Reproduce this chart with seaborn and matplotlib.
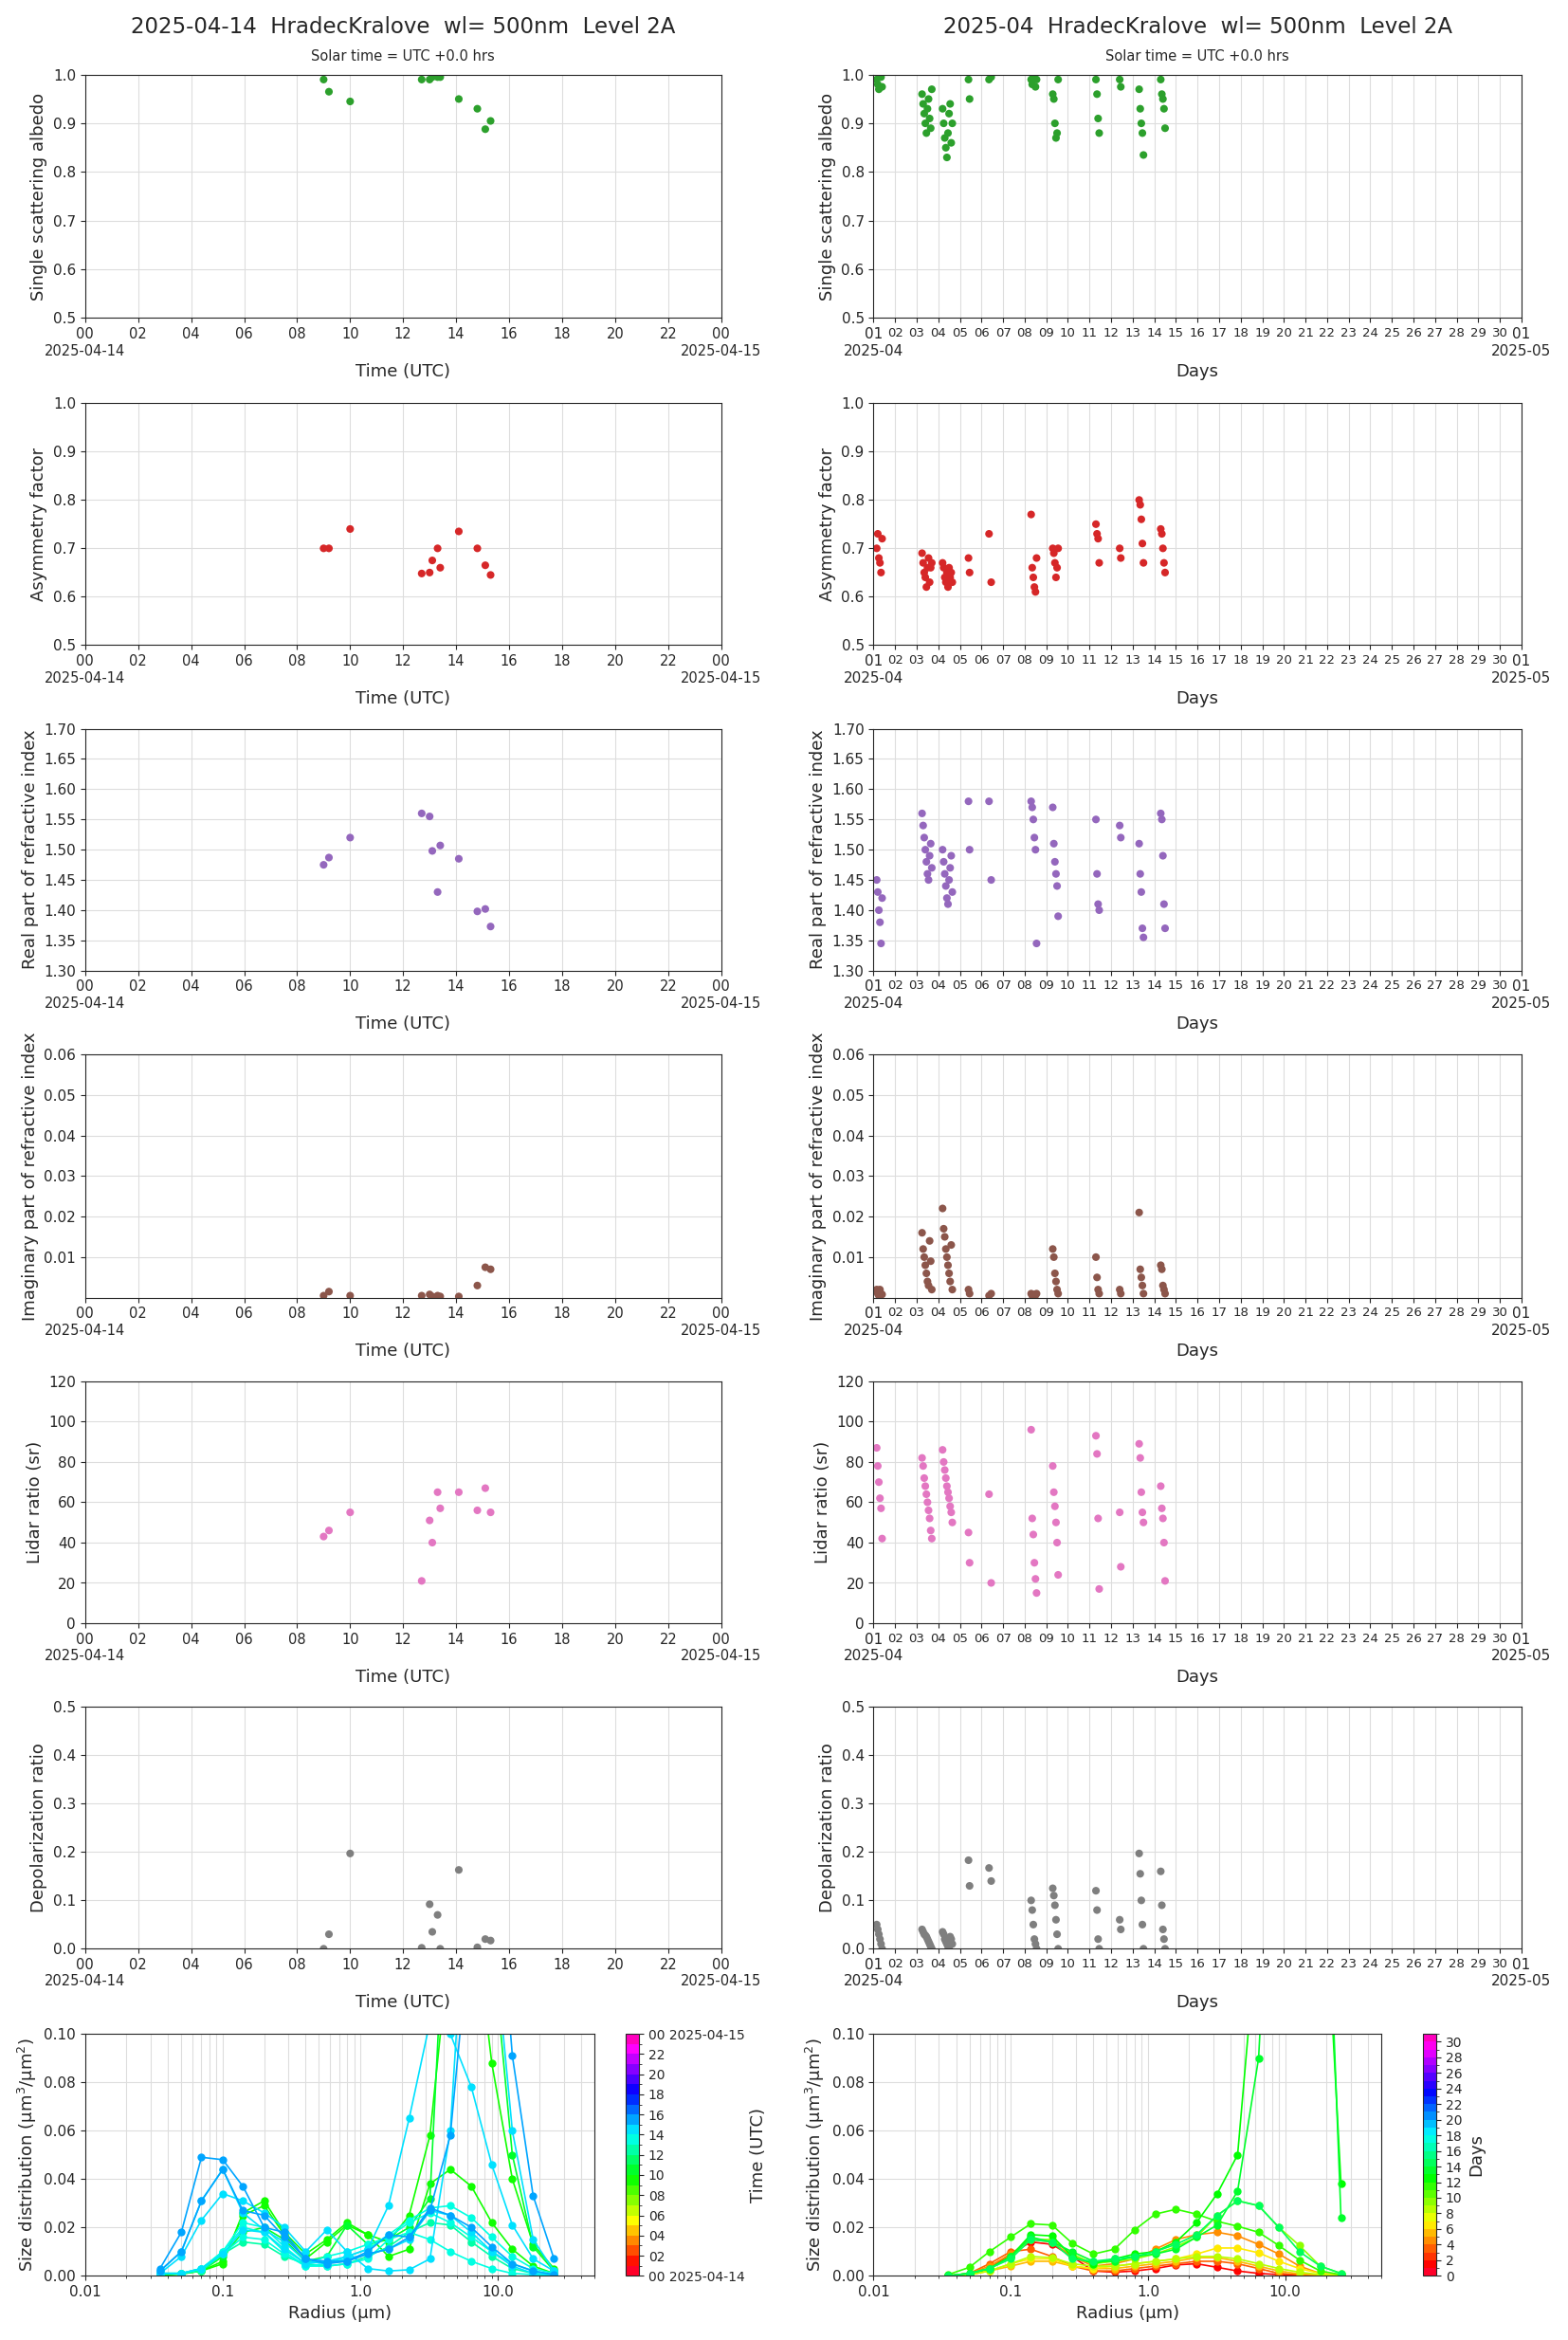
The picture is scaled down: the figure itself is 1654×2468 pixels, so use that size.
import numpy as np
import pandas as pd
import matplotlib
matplotlib.use("Agg")
import matplotlib.pyplot as plt
import matplotlib.colors as mcolors
import matplotlib.cm as cm
import seaborn as sns

sns.set_style("ticks")
plt.rcParams["font.family"] = "DejaVu Sans"

# ---------------- data: daily (hours UTC) ----------------
day_hours = [9.0, 9.2, 10.0, 12.7, 13.0, 13.1, 13.3, 13.4, 14.1, 14.8, 15.1, 15.3]
day_ssa = [0.99, 0.965, 0.945, 0.99, 0.99, 0.995, 0.995, 0.995, 0.95, 0.93, 0.888, 0.905]
day_asym = [0.70, 0.70, 0.74, 0.648, 0.65, 0.675, 0.70, 0.66, 0.735, 0.70, 0.665, 0.645]
day_real = [1.475, 1.487, 1.52, 1.56, 1.555, 1.498, 1.43, 1.507, 1.485, 1.398, 1.402, 1.373]
day_imag = [0.0005, 0.0015, 0.0005, 0.0005, 0.0008, 0.0003, 0.0005, 0.0003, 0.0003, 0.003, 0.0075, 0.007]
day_lidar = [43, 46, 55, 21, 51, 40, 65, 57, 65, 56, 67, 55]
day_depol = [0.0, 0.03, 0.197, 0.002, 0.092, 0.035, 0.07, 0.0, 0.163, 0.003, 0.02, 0.017]

# ---------------- data: monthly (day of month) ----------------
mon_days = [1.15, 1.2, 1.25, 1.3, 1.35, 1.4,
            3.25, 3.3, 3.35, 3.4, 3.45, 3.5, 3.55, 3.6, 3.65, 3.7,
            4.2, 4.25, 4.3, 4.35, 4.4, 4.45, 4.5, 4.55, 4.6, 4.65,
            5.4, 5.45, 6.35, 6.45,
            8.3, 8.35, 8.4, 8.45, 8.5, 8.55,
            9.3, 9.35, 9.4, 9.45, 9.5, 9.55,
            11.3, 11.35, 11.4, 11.45, 12.4, 12.45,
            13.3, 13.35, 13.4, 13.45, 13.5,
            14.3, 14.35, 14.4, 14.45, 14.5]
mon_ssa = [0.99, 0.98, 0.97, 1.0, 0.995, 0.975,
           0.96, 0.94, 0.92, 0.90, 0.88, 0.93, 0.95, 0.91, 0.89, 0.97,
           0.93, 0.90, 0.87, 0.85, 0.83, 0.88, 0.92, 0.94, 0.86, 0.90,
           0.99, 0.95, 0.99, 0.995,
           0.99, 0.98, 0.995, 1.0, 0.975, 0.99,
           0.96, 0.95, 0.90, 0.87, 0.88, 0.99,
           0.99, 0.96, 0.91, 0.88, 0.99, 0.975,
           0.97, 0.93, 0.90, 0.88, 0.835,
           0.99, 0.96, 0.95, 0.93, 0.89]
mon_asym = [0.70, 0.73, 0.68, 0.67, 0.65, 0.72,
            0.69, 0.67, 0.65, 0.64, 0.62, 0.66, 0.68, 0.63, 0.66, 0.67,
            0.67, 0.66, 0.64, 0.63, 0.65, 0.62, 0.66, 0.64, 0.65, 0.63,
            0.68, 0.65, 0.73, 0.63,
            0.77, 0.66, 0.64, 0.62, 0.61, 0.68,
            0.70, 0.69, 0.67, 0.64, 0.66, 0.70,
            0.75, 0.73, 0.72, 0.67, 0.70, 0.68,
            0.80, 0.79, 0.76, 0.71, 0.67,
            0.74, 0.73, 0.70, 0.67, 0.65]
mon_real = [1.45, 1.43, 1.40, 1.38, 1.345, 1.42,
            1.56, 1.54, 1.52, 1.50, 1.48, 1.46, 1.45, 1.49, 1.51, 1.47,
            1.50, 1.48, 1.46, 1.44, 1.42, 1.41, 1.45, 1.47, 1.49, 1.43,
            1.58, 1.50, 1.58, 1.45,
            1.58, 1.57, 1.55, 1.52, 1.50, 1.345,
            1.57, 1.51, 1.48, 1.46, 1.44, 1.39,
            1.55, 1.46, 1.41, 1.40, 1.54, 1.52,
            1.51, 1.46, 1.43, 1.37, 1.355,
            1.56, 1.55, 1.49, 1.41, 1.37]
mon_imag = [0.002, 0.001, 0.0005, 0.002, 0.001, 0.0008,
            0.016, 0.012, 0.010, 0.008, 0.006, 0.004, 0.003, 0.014, 0.009, 0.002,
            0.022, 0.017, 0.015, 0.012, 0.010, 0.008, 0.006, 0.004, 0.013, 0.002,
            0.002, 0.001, 0.0005, 0.001,
            0.001, 0.0005, 0.0008, 0.0003, 0.0006, 0.001,
            0.012, 0.010, 0.006, 0.004, 0.002, 0.001,
            0.010, 0.005, 0.002, 0.001, 0.002, 0.001,
            0.021, 0.007, 0.005, 0.003, 0.001,
            0.008, 0.007, 0.003, 0.002, 0.001]
mon_lidar = [87, 78, 70, 62, 57, 42,
             82, 78, 72, 68, 64, 60, 56, 52, 46, 42,
             86, 80, 76, 72, 68, 65, 62, 58, 55, 50,
             45, 30, 64, 20,
             96, 52, 44, 30, 22, 15,
             78, 65, 58, 50, 40, 24,
             93, 84, 52, 17, 55, 28,
             89, 82, 65, 55, 50,
             68, 57, 52, 40, 21]
mon_depol = [0.05, 0.04, 0.03, 0.02, 0.01, 0.0,
             0.04, 0.035, 0.03, 0.028, 0.025, 0.02, 0.015, 0.01, 0.005, 0.0,
             0.035, 0.03, 0.02, 0.015, 0.01, 0.005, 0.0, 0.025, 0.02, 0.01,
             0.183, 0.13, 0.167, 0.14,
             0.10, 0.08, 0.05, 0.02, 0.01, 0.0,
             0.125, 0.11, 0.09, 0.06, 0.03, 0.0,
             0.12, 0.08, 0.02, 0.0, 0.06, 0.04,
             0.197, 0.155, 0.10, 0.05, 0.0,
             0.16, 0.09, 0.04, 0.02, 0.0]

# ---------------- size distributions ----------------
radius = [0.035, 0.05, 0.07, 0.1, 0.14, 0.2, 0.28, 0.4, 0.57, 0.8,
          1.13, 1.6, 2.26, 3.2, 4.5, 6.4, 9.0, 12.7, 18.0, 25.5]
sd_day_hours = [9.0, 9.2, 10.0, 12.7, 13.0, 13.2, 13.4, 14.1, 14.5, 14.8, 15.1, 15.3]
sd_day = [
    [0.0005, 0.001, 0.002, 0.005, 0.026, 0.031, 0.018, 0.009, 0.015, 0.022, 0.017, 0.014, 0.025, 0.058, 0.14, 0.16, 0.088, 0.040, 0.013, 0.003],
    [0.0003, 0.0008, 0.002, 0.006, 0.025, 0.029, 0.017, 0.007, 0.014, 0.021, 0.017, 0.008, 0.011, 0.038, 0.044, 0.037, 0.022, 0.011, 0.004, 0.001],
    [0.0003, 0.0008, 0.002, 0.008, 0.018, 0.020, 0.015, 0.006, 0.008, 0.021, 0.013, 0.015, 0.020, 0.032, 0.20, 0.26, 0.14, 0.050, 0.012, 0.002],
    [0.001, 0.001, 0.002, 0.009, 0.014, 0.013, 0.008, 0.005, 0.004, 0.005, 0.008, 0.012, 0.018, 0.022, 0.021, 0.014, 0.008, 0.003, 0.001, 0.0003],
    [0.001, 0.001, 0.003, 0.009, 0.016, 0.015, 0.009, 0.004, 0.004, 0.005, 0.007, 0.015, 0.018, 0.015, 0.010, 0.006, 0.003, 0.001, 0.0005, 0.0002],
    [0.001, 0.001, 0.003, 0.010, 0.020, 0.018, 0.010, 0.004, 0.005, 0.008, 0.011, 0.017, 0.023, 0.028, 0.029, 0.024, 0.016, 0.008, 0.003, 0.001],
    [0.001, 0.001, 0.003, 0.010, 0.022, 0.020, 0.012, 0.005, 0.008, 0.010, 0.013, 0.016, 0.022, 0.026, 0.022, 0.016, 0.010, 0.005, 0.002, 0.0005],
    [0.001, 0.001, 0.003, 0.009, 0.019, 0.018, 0.011, 0.005, 0.006, 0.008, 0.011, 0.029, 0.065, 0.105, 0.100, 0.078, 0.046, 0.021, 0.007, 0.002],
    [0.001, 0.008, 0.023, 0.034, 0.031, 0.026, 0.020, 0.010, 0.019, 0.010, 0.003, 0.002, 0.0025, 0.007, 0.060, 0.200, 0.150, 0.060, 0.015, 0.002],
    [0.002, 0.010, 0.031, 0.044, 0.026, 0.019, 0.014, 0.006, 0.005, 0.007, 0.009, 0.011, 0.015, 0.027, 0.025, 0.018, 0.010, 0.004, 0.001, 0.0003],
    [0.003, 0.018, 0.049, 0.048, 0.037, 0.020, 0.018, 0.007, 0.006, 0.006, 0.010, 0.017, 0.016, 0.027, 0.058, 0.150, 0.200, 0.091, 0.033, 0.007],
    [0.002, 0.010, 0.031, 0.044, 0.027, 0.025, 0.016, 0.007, 0.005, 0.006, 0.009, 0.011, 0.016, 0.028, 0.025, 0.020, 0.012, 0.005, 0.002, 0.0005],
]
sd_mon_days = [1.3, 3.5, 4.4, 5.4, 6.4, 8.4, 9.4, 11.4, 12.4, 13.4, 14.4]
sd_mon = [
    [0, 0.0005, 0.003, 0.009, 0.014, 0.013, 0.008, 0.002, 0.0015, 0.002, 0.003, 0.0045, 0.005, 0.0035, 0.002, 0.001, 0.0005, 0.0002, 0.0001, 0],
    [0, 0.001, 0.005, 0.010, 0.011, 0.008, 0.004, 0.002, 0.002, 0.003, 0.004, 0.005, 0.006, 0.006, 0.005, 0.003, 0.001, 0.0005, 0.0002, 0],
    [0, 0.001, 0.004, 0.009, 0.015, 0.014, 0.008, 0.004, 0.005, 0.007, 0.011, 0.015, 0.017, 0.018, 0.0165, 0.013, 0.009, 0.004, 0.001, 0.0003],
    [0, 0.0005, 0.002, 0.004, 0.006, 0.006, 0.004, 0.003, 0.003, 0.004, 0.005, 0.006, 0.0075, 0.0075, 0.006, 0.004, 0.002, 0.0008, 0.0003, 0.0001],
    [0, 0.0005, 0.002, 0.005, 0.007, 0.007, 0.004, 0.003, 0.004, 0.005, 0.006, 0.007, 0.009, 0.0115, 0.0115, 0.0095, 0.006, 0.003, 0.001, 0.0003],
    [0, 0.0005, 0.002, 0.005, 0.008, 0.0075, 0.005, 0.004, 0.004, 0.005, 0.006, 0.007, 0.008, 0.008, 0.007, 0.005, 0.003, 0.0015, 0.0005, 0.0001],
    [0, 0.001, 0.003, 0.008, 0.015, 0.015, 0.009, 0.005, 0.006, 0.007, 0.009, 0.012, 0.016, 0.025, 0.031, 0.029, 0.020, 0.0125, 0.004, 0.001],
    [0.0005, 0.0035, 0.010, 0.016, 0.0215, 0.021, 0.0135, 0.009, 0.011, 0.019, 0.0255, 0.0275, 0.0255, 0.0225, 0.0205, 0.018, 0.0125, 0.0065, 0.002, 0.0005],
    [0, 0.001, 0.003, 0.008, 0.017, 0.0165, 0.008, 0.005, 0.007, 0.009, 0.010, 0.014, 0.022, 0.034, 0.050, 0.150, 0.30, 0.30, 0.20, 0.038],
    [0, 0.001, 0.003, 0.008, 0.016, 0.014, 0.010, 0.006, 0.006, 0.008, 0.009, 0.011, 0.016, 0.021, 0.035, 0.090, 0.25, 0.30, 0.25, 0.024],
    [0, 0.001, 0.003, 0.007, 0.015, 0.014, 0.007, 0.006, 0.007, 0.008, 0.010, 0.013, 0.017, 0.025, 0.031, 0.029, 0.020, 0.010, 0.004, 0.001],
]

# ---------------- figure ----------------
W, H = 1654, 2468
K = 1.575
fig = plt.figure(figsize=(W / 100, H / 100), dpi=100)

def axes_at(x0, x1, y0, y1):
    return fig.add_axes([x0 * K / W, 1 - y1 * K / H, (x1 - x0) * K / W, (y1 - y0) * K / H])

rows = [(50, 213), (270, 432), (488, 650), (706, 869), (925, 1087), (1143, 1305)]
panels = [
    ("Single scattering albedo", day_ssa, mon_ssa, "#2ca02c", (0.5, 1.0), np.arange(0.5, 1.01, 0.1), "{:.1f}"),
    ("Asymmetry factor", day_asym, mon_asym, "#d62728", (0.5, 1.0), np.arange(0.5, 1.01, 0.1), "{:.1f}"),
    ("Real part of refractive index", day_real, mon_real, "#9467bd", (1.3, 1.7), np.arange(1.30, 1.701, 0.05), "{:.2f}"),
    ("Imaginary part of refractive index", day_imag, mon_imag, "#8c564b", (0.0, 0.06), np.arange(0.01, 0.061, 0.01), "{:.2f}"),
    ("Lidar ratio (sr)", day_lidar, mon_lidar, "#e377c2", (0, 120), np.arange(0, 121, 20), "{:.0f}"),
    ("Depolarization ratio", day_depol, mon_depol, "#7f7f7f", (0.0, 0.5), np.arange(0, 0.51, 0.1), "{:.1f}"),
]

hour_ticks = list(range(0, 25, 2))
hour_labels = ["00\n2025-04-14"] + ["%02d" % h for h in hour_ticks[1:-1]] + ["00\n2025-04-15"]
day_ticks = list(range(1, 32))
day_labels = ["01\n2025-04"] + ["%02d" % d for d in day_ticks[1:-1]] + ["01\n2025-05"]

for i, (lab, dv, mv, col, ylim, yt, fmt) in enumerate(panels):
    y0, y1 = rows[i]
    for side in range(2):
        if side == 0:
            ax = axes_at(57, 483, y0, y1)
            sns.scatterplot(x=day_hours, y=dv, color=col, s=34, edgecolor="none", ax=ax)
            ax.set_xlim(0, 24)
            ax.set_xticks(hour_ticks)
            ax.set_xticklabels(hour_labels, fontsize=10.5)
            ax.set_xlabel("Time (UTC)", fontsize=13)
        else:
            ax = axes_at(585, 1019, y0, y1)
            sns.scatterplot(x=mon_days, y=mv, color=col, s=34, edgecolor="none", ax=ax)
            ax.set_xlim(1, 31)
            ax.set_xticks(day_ticks)
            ax.set_xticklabels(day_labels, fontsize=9.5)
            tl = ax.get_xticklabels()
            tl[0].set_fontsize(11)
            tl[-1].set_fontsize(11)
            ax.set_xlabel("Days", fontsize=13)
        ax.set_ylim(*ylim)
        ax.set_yticks(yt)
        ax.set_yticklabels([fmt.format(v) for v in yt], fontsize=11)
        ax.set_ylabel(lab, fontsize=13)
        ax.grid(True, color="#dddddd", linewidth=0.8)
        ax.set_axisbelow(True)
        if i == 0:
            x0, x1 = (57, 483) if side == 0 else (585, 1019)
            xc = (x0 + x1) / 2 * K / W
            title = ("2025-04-14  HradecKralove  wl= 500nm  Level 2A" if side == 0
                     else "2025-04  HradecKralove  wl= 500nm  Level 2A")
            fig.text(xc, 1 - 18 * K / H, title, ha="center", va="center", fontsize=16.5)
            fig.text(xc, 1 - 38 * K / H, "Solar time = UTC +0.0 hrs", ha="center", va="center", fontsize=10.5)

# size distribution panels
cmap = plt.get_cmap("gist_rainbow")
specs = [
    (57, 398, 419, 428, sd_day_hours, sd_day, 24, list(range(0, 25, 2)),
     ["00 2025-04-14"] + ["%02d" % h for h in range(2, 24, 2)] + ["00 2025-04-15"], "Time (UTC)"),
    (585, 925, 953, 962, sd_mon_days, sd_mon, 31, list(range(0, 31, 2)),
     [str(d) for d in range(0, 31, 2)], "Days"),
]
for (x0, x1, c0, c1, tvals, curves, nmax, cticks, clabels, clabel) in specs:
    ax = axes_at(x0, x1, 1362, 1524)
    norm = mcolors.BoundaryNorm(np.arange(0, nmax + 1, 1), cmap.N)
    rows_df = []
    for t, curve in zip(tvals, curves):
        for r, v in zip(radius, curve):
            rows_df.append({"r": r, "v": v, "t": t})
    df = pd.DataFrame(rows_df)
    for t in tvals:
        sub = df[df["t"] == t]
        sns.lineplot(data=sub, x="r", y="v", color=cmap(norm(t)), marker="o", markersize=6,
                     markeredgecolor="none", linewidth=1.2, ax=ax, legend=False)
    ax.set_xscale("log")
    ax.set_xlim(0.01, 50)
    ax.set_ylim(0, 0.1)
    ax.set_xticks([0.01, 0.1, 1.0, 10.0])
    ax.set_xticklabels(["0.01", "0.1", "1.0", "10.0"], fontsize=11)
    ax.set_yticks(np.arange(0, 0.101, 0.02))
    ax.set_yticklabels(["%.2f" % v for v in np.arange(0, 0.101, 0.02)], fontsize=11)
    ax.grid(True, which="major", color="#dddddd", linewidth=0.8)
    ax.grid(True, which="minor", axis="x", color="#dddddd", linewidth=0.8)
    ax.set_axisbelow(True)
    ax.set_xlabel("Radius (\u03bcm)", fontsize=13)
    ax.set_ylabel("Size distribution (\u03bcm$^3$/\u03bcm$^2$)", fontsize=13)
    cax = axes_at(c0, c1, 1362, 1524)
    cb = fig.colorbar(cm.ScalarMappable(norm=norm, cmap=cmap), cax=cax)
    cb.set_ticks(cticks)
    cb.set_ticklabels(clabels)
    cb.ax.tick_params(labelsize=10)
    cb.set_label(clabel, fontsize=13)

fig.savefig("out.png", dpi=100)
